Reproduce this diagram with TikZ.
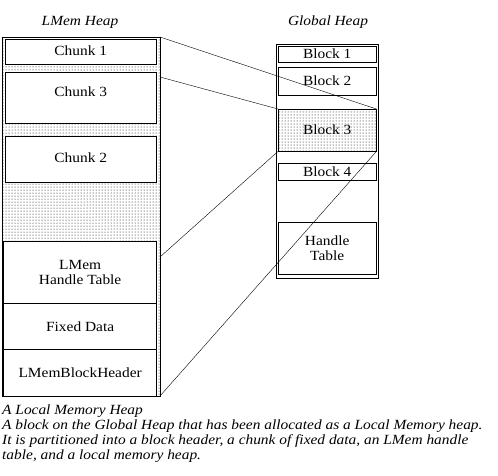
\documentclass[tikz,border=0pt]{standalone}
\usepackage{fontspec}
\setmainfont[FakeStretch=1.1]{Liberation Serif}
\usepackage{tikz}
\usetikzlibrary{patterns,positioning,calc}

\tikzset{
    box/.style={draw, rectangle, anchor=north west, inner sep=0pt, align=center, fill=white},
    bigbox/.style={box, line width=1.3pt},
    heading/.style={font=\fontsize{14}{15}\selectfont\itshape}
}

\begin{document}
\begin{tikzpicture}[x=1pt, y=-1pt, font=\fontsize{14}{15}\selectfont]
            \useasboundingbox (0,0) rectangle (498,475);
            % the two heaps
            \draw[pattern=dots] (2,37) rectangle (160,396);
            \draw[line width=1.3pt] (2.5,37) -- (2.5,396);
            \draw (276,44) rectangle (378,278);
            \coordinate (heapne) at (160,37);
            \coordinate (heapse) at (160,396);
            \node[heading] (lmemlbl) at (80,22) {LMem Heap};
            \node[heading] (globlbl) at (328,22) {Global Heap};
            % chunks
            \foreach \n/\y/\h/\d/\t in {c1/39/25/3/{Chunk 1}, c3/72/51/13/{Chunk 3}, c2/136/46/3/{Chunk 2}} {
                \node[box, minimum width=151pt, minimum height=\h pt, text depth=\d pt] (\n) at (5,\y) {\t};
            }
            \node[bigbox, minimum width=153pt, minimum height=62pt] (ht) at (3,241) {LMem\\Handle Table};
            \node[box, line width=1.3pt, minimum width=153pt, minimum height=46pt] (fd) at (3,303) {Fixed Data};
            \node[bigbox, minimum width=153pt, minimum height=47pt] (hdr) at (3,349) {LMemBlockHeader};
            % blocks
            \foreach \n/\y/\h/\t in {b1/46/16/{Block 1}, b2/67/28/{Block 2}, b4/163/17/{Block 4}, bt/222/52/{Handle\\Table}} {
                \node[box, minimum width=98pt, minimum height=\h pt] (\n) at (278,\y) {\t};
            }
            \node[box, fill=none, pattern=dots, minimum width=98pt, minimum height=42pt] (b3) at (278,109) {};
            \node (b3lbl) at (b3.center) {Block 3};
            % lines between the heaps
            \coordinate (s2) at (160,77);
            \coordinate (s3) at (160,257);
            \draw (heapne) -- (b3.north east);
            \draw (s2) -- (b3.north west);
            \draw (s3) -- (b3.south west);
            \draw (heapse) -- (b3.south east);
            % caption
            \node[anchor=north west, align=left, inner sep=0pt, font=\fontsize{14}{14.7}\selectfont\itshape] (cap) at (2,405)
                {A Local Memory Heap\\A block on the Global Heap that has been allocated as a Local Memory heap.\\It is partitioned into a block header, a chunk of fixed data, an LMem handle\\table, and a local memory heap.};
        \end{tikzpicture}
\end{document}
